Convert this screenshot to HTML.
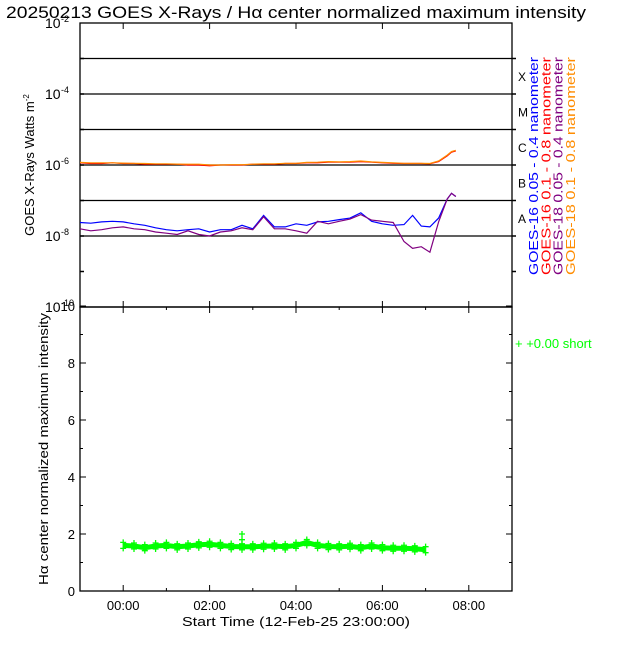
<!DOCTYPE html>
<html><head><meta charset="utf-8"><style>
body{margin:0;background:#fff}
svg text{font-family:"Liberation Sans",sans-serif}
</style></head><body>
<svg id="c" width="640" height="640" xmlns="http://www.w3.org/2000/svg">
<rect width="640" height="640" fill="#fff"/>
<text x="6" y="18" font-size="17" textLength="580" lengthAdjust="spacingAndGlyphs">20250213 GOES X-Rays / Hα center normalized maximum intensity</text>
<g id="topPanel"></g>
<g id="botPanel"></g>
</svg>
<script>
const goesTimes=[-1,-0.75,-0.5,-0.25,0,0.25,0.5,0.75,1,1.25,1.5,1.75,2,2.25,2.5,2.75,3,3.25,3.5,3.75,4,4.25,4.5,4.75,5,5.25,5.5,5.75,6,6.25,6.5,6.7,6.9,7.1,7.3,7.5,7.6,7.7];
const goes16short=[2.4e-8,2.3e-8,2.5e-8,2.6e-8,2.5e-8,2.2e-8,2.0e-8,1.7e-8,1.5e-8,1.4e-8,1.5e-8,1.6e-8,1.3e-8,1.5e-8,1.5e-8,2.0e-8,1.6e-8,3.8e-8,1.8e-8,1.8e-8,2.2e-8,2.0e-8,2.5e-8,2.6e-8,2.9e-8,3.2e-8,4.5e-8,2.6e-8,2.2e-8,2.0e-8,2.1e-8,3.8e-8,1.9e-8,1.8e-8,3.2e-8,1.1e-7,1.6e-7,1.3e-7];
const goes18short=[1.6e-8,1.4e-8,1.5e-8,1.7e-8,1.8e-8,1.6e-8,1.5e-8,1.3e-8,1.2e-8,1.1e-8,1.4e-8,1.1e-8,1.0e-8,1.3e-8,1.4e-8,1.7e-8,1.5e-8,3.5e-8,1.6e-8,1.6e-8,1.4e-8,1.2e-8,2.6e-8,2.2e-8,2.6e-8,3.0e-8,4.0e-8,2.8e-8,2.6e-8,2.4e-8,7e-9,4.5e-9,5e-9,3.5e-9,2.5e-8,1.1e-7,1.6e-7,1.3e-7];
const goes16long=[1.15e-6,1.1e-6,1.1e-6,1.15e-6,1.1e-6,1.1e-6,1.05e-6,1.05e-6,1.05e-6,1.05e-6,1.0e-6,1.0e-6,9.5e-7,1.0e-6,1.0e-6,1.0e-6,1.05e-6,1.05e-6,1.05e-6,1.1e-6,1.1e-6,1.15e-6,1.15e-6,1.2e-6,1.2e-6,1.2e-6,1.25e-6,1.2e-6,1.15e-6,1.12e-6,1.1e-6,1.1e-6,1.1e-6,1.08e-6,1.25e-6,1.8e-6,2.3e-6,2.5e-6];
const goes18long=[1.18e-6,1.15e-6,1.15e-6,1.15e-6,1.13e-6,1.12e-6,1.1e-6,1.08e-6,1.08e-6,1.06e-6,1.05e-6,1.05e-6,1.0e-6,1.0e-6,1.02e-6,1.02e-6,1.05e-6,1.08e-6,1.08e-6,1.12e-6,1.12e-6,1.18e-6,1.2e-6,1.25e-6,1.22e-6,1.25e-6,1.3e-6,1.22e-6,1.18e-6,1.15e-6,1.12e-6,1.12e-6,1.12e-6,1.1e-6,1.3e-6,1.9e-6,2.4e-6,2.6e-6];
const haTimes=[0,0.25,0.5,0.75,1,1.25,1.5,1.75,2,2.25,2.5,2.75,3,3.25,3.5,3.75,4,4.25,4.5,4.75,5,5.25,5.5,5.75,6,6.25,6.5,6.75,7];
const haValues=[1.6,1.58,1.52,1.58,1.6,1.55,1.58,1.62,1.64,1.6,1.56,1.55,1.55,1.57,1.58,1.55,1.6,1.7,1.6,1.56,1.55,1.57,1.52,1.58,1.52,1.5,1.5,1.48,1.45];
const haOutT=[2.75,2.75];
const haOutV=[2.0,1.8];
const xTickHours=[0,2,4,6,8];
const xTickLabels=["00:00","02:00","04:00","06:00","08:00"];
const yTopExps=[-2,-4,-6,-8,-10];
const flareLetters=["X","M","C","B","A"];
const haYTicks=[0,2,4,6,8,10];

const NS="http://www.w3.org/2000/svg";
const X0=80,X1=512;
const xs=h=>X0+(h+1)*(X1-X0)/10;
const yTop=f=>23+(-2-Math.log10(f))*35.5;
const yBot=v=>591-v*28.5;
function mk(p,t,a){const e=document.createElementNS(NS,t);for(const k in a)e.setAttribute(k,a[k]);p.appendChild(e);return e;}
const topG=document.getElementById('topPanel'),botG=document.getElementById('botPanel');

let r=mk(topG,'rect',{x:X0,y:23,width:X1-X0,height:284,fill:'none',stroke:'#000','stroke-width':1.3});


for(let e=-3;e>=-9;e--){const yy=yTop(Math.pow(10,e));
if(e>=-8){let l=mk(topG,'line',{x1:X0,x2:X1,y1:yy,y2:yy,stroke:'#000','stroke-width':1.3});

}
mk(topG,'line',{x1:X1,x2:X1+4,y1:yy,y2:yy,stroke:'#000','stroke-width':1.5});
mk(topG,'line',{x1:X0,x2:X0+4,y1:yy,y2:yy,stroke:'#000','stroke-width':1.5});}
yTopExps.forEach(e=>{const yy=yTop(Math.pow(10,e));let t=mk(topG,'text',{x:45,y:yy+5,'font-size':14});t.textContent='10';


let s=mk(topG,'text',{x:61,y:yy-1,'font-size':9});s.textContent=String(e);

});
flareLetters.forEach((L,i)=>{let t=mk(topG,'text',{x:518,y:yTop(Math.pow(10,-4-i))-13,'font-size':12});t.textContent=L;

});
let yl=mk(topG,'text',{x:0,y:0,'font-size':13,'text-anchor':'middle',transform:'translate(34,165) rotate(-90)'});yl.innerHTML='GOES X-Rays Watts m<tspan dy="-5" font-size="8">-2</tspan>';


for(let h=-1;h<=9;h++){if(h%2===0){mk(topG,'line',{x1:xs(h),x2:xs(h),y1:23,y2:29,stroke:'#000'});mk(topG,'line',{x1:xs(h),x2:xs(h),y1:307,y2:301,stroke:'#000'});}}
function series(arr,col,name){let d=goesTimes.map((t,i)=>(i?'L':'M')+xs(t).toFixed(1)+' '+yTop(arr[i]).toFixed(1)).join(' ');
let p=mk(topG,'path',{d:d,fill:'none',stroke:col,'stroke-width':1.2});

}
series(goes16long,'#ff0000','goes16-long-series');
series(goes18long,'#ff8c00','goes18-long-series');
series(goes16short,'#0000ff','goes16-short-series');
series(goes18short,'#800080','goes18-short-series');
const leg=[['GOES-16 0.05 - 0.4 nanometer','#0000ff'],['GOES-16 0.1 - 0.8 nanometer','#ff0000'],['GOES-18 0.05 - 0.4 nanometer','#800080'],['GOES-18 0.1 - 0.8 nanometer','#ff8c00']];
leg.forEach((l,i)=>{let t=mk(topG,'text',{x:0,y:0,'font-size':13,fill:l[1],textLength:218,lengthAdjust:'spacingAndGlyphs',transform:`translate(${538+i*12.3},275) rotate(-90)`});t.textContent=l[0];

});

let r2=mk(botG,'rect',{x:X0,y:307,width:X1-X0,height:284,fill:'none',stroke:'#000','stroke-width':1.3});


for(let v=0;v<=10;v++){let w=v%2?3:6;mk(botG,'line',{x1:X0,x2:X0+w,y1:yBot(v),y2:yBot(v),stroke:'#000'});mk(botG,'line',{x1:X1,x2:X1-w,y1:yBot(v),y2:yBot(v),stroke:'#000'});}
haYTicks.forEach(v=>{let t=mk(botG,'text',{x:75,y:yBot(v)+5,'font-size':13,'text-anchor':'end'});t.textContent=v;

});
for(let h=-1;h<=9;h++){let w=h%2?3:6;mk(botG,'line',{x1:xs(h),x2:xs(h),y1:591,y2:591-w,stroke:'#000'});mk(botG,'line',{x1:xs(h),x2:xs(h),y1:307,y2:307+w,stroke:'#000'});}
xTickHours.forEach((h,i)=>{let t=mk(botG,'text',{x:xs(h),y:610,'font-size':13,'text-anchor':'middle'});t.textContent=xTickLabels[i];

});
let xt=mk(botG,'text',{x:182,y:626,'font-size':13,textLength:228,lengthAdjust:'spacingAndGlyphs'});xt.textContent='Start Time (12-Feb-25 23:00:00)';


let yl2=mk(botG,'text',{x:0,y:0,'font-size':13,textLength:272,lengthAdjust:'spacingAndGlyphs',transform:'translate(48,585) rotate(-90)'});yl2.textContent='Hα center normalized maximum intensity';


let band=mk(botG,'path',{d:haTimes.map((t,i)=>(i?'L':'M')+xs(t).toFixed(1)+' '+yBot(haValues[i]).toFixed(1)).join(' '),fill:'none',stroke:'#00ff00','stroke-width':5});


function plus(t,v,dy){let g=mk(botG,'path',{d:`M${xs(t)-3} ${yBot(v)+dy}h6M${xs(t)} ${yBot(v)+dy-3}v6`,stroke:'#00ff00','stroke-width':1.3});

}
haTimes.forEach((t,i)=>{plus(t,haValues[i],-3);plus(t,haValues[i],3);});
haOutT.forEach((t,i)=>plus(t,haOutV[i],0));
let hl=mk(botG,'text',{x:515,y:348,'font-size':13,fill:'#00ff00'});hl.textContent='+  +0.00 short';


</script>
</body></html>
